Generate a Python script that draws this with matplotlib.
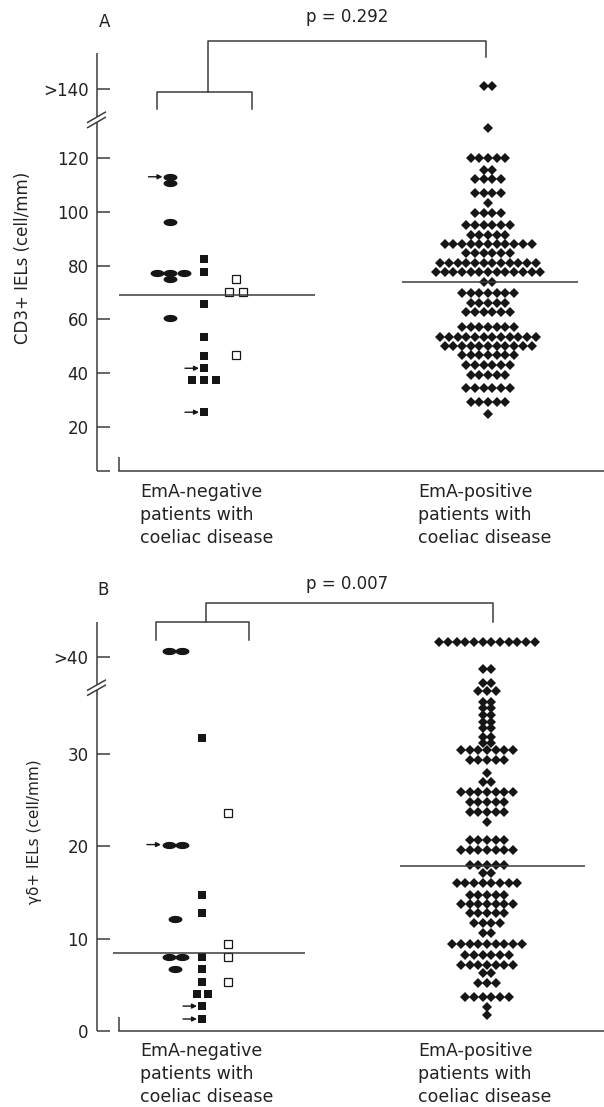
import numpy as np
import matplotlib.pyplot as plt
from matplotlib.transforms import blended_transform_factory

# ---- values ----
# Panel A: CD3+ IELs (cell/mm); points above the axis break (>140) sit at 146
a_neg_oval = [112.9, 110.5, 96.3, 77.3, 77.3, 77.3, 74.9, 60.7]
a_neg_square = [82.4, 77.5, 65.6, 53.6, 46.6, 41.9, 37.4, 37.4, 37.4, 25.6]
a_neg_open = [75.0, 70.1, 70.1, 46.7]
a_pos_levels = [146.6, 130.9, 119.8, 115.4, 112.0, 106.8, 103.1, 99.4, 95.0, 91.3,
                88.0, 84.5, 80.8, 77.7, 74.0, 69.7, 66.0, 62.9, 57.3, 53.6,
                50.2, 46.8, 43.1, 39.4, 34.5, 29.5, 24.9]
a_pos_counts = [2, 1, 5, 2, 4, 4, 1, 4, 6, 5,
                11, 6, 12, 13, 2, 7, 5, 6, 7, 12,
                11, 7, 6, 5, 6, 5, 1]
a_neg_mean = 69.1
a_pos_mean = 74.0
a_arrow_oval = [112.9]
a_arrow_square = [41.9, 25.6]
a_ticks = [20, 40, 60, 80, 100, 120, 145.5]
a_ticklabels = ["20", "40", "60", "80", "100", "120", ">140"]
a_pvalue = "p = 0.292"

# Panel B: gamma-delta+ IELs (cell/mm); >40 points sit at ~41-42
b_neg_oval = [41.2, 41.2, 20.2, 20.2, 12.1, 8.05, 8.05, 6.7]
b_neg_square = [31.7, 14.7, 12.8, 8.05, 6.7, 5.3, 4.0, 4.0, 2.7, 1.3]
b_neg_open = [23.6, 9.4, 8.05, 5.3]
b_pos_levels = [42.2, 39.2, 37.7, 36.8, 35.7, 35.0, 34.2, 33.5, 32.8, 31.9,
                31.2, 30.4, 29.4, 28.0, 27.0, 25.9, 24.8, 23.7, 22.6, 20.7,
                19.6, 18.0, 17.1, 16.0, 14.7, 13.8, 12.8, 11.7, 10.6, 9.4,
                8.2, 7.2, 6.3, 5.2, 3.7, 2.6, 1.7]
b_pos_counts = [12, 2, 2, 3, 2, 2, 2, 2, 2, 2,
                2, 7, 5, 1, 2, 7, 5, 5, 1, 5,
                7, 5, 2, 8, 5, 7, 5, 4, 2, 9,
                6, 7, 2, 3, 6, 1, 1]
b_neg_mean = 8.4
b_pos_mean = 17.9
b_arrow_oval = [20.2]
b_arrow_square = [2.7, 1.3]
b_ticks = [0, 10, 20, 30, 40.5]
b_ticklabels = ["0", "10", "20", "30", ">40"]
b_pvalue = "p = 0.007"

group_labels = ["EmA-negative\npatients with\ncoeliac disease",
                "EmA-positive\npatients with\ncoeliac disease"]

INK = "#161616"
LINE = "#3c3c3c"
plt.rcParams["font.family"] = "DejaVu Sans"

theta = np.linspace(0, 2 * np.pi, 48)
oval = np.column_stack([np.cos(theta), 0.52 * np.sin(theta)])


def spread(vals, center, step):
    # put tied values side by side, centred on the column
    vals = np.asarray(vals, dtype=float)
    xs = np.empty(len(vals))
    for v in np.unique(vals):
        idx = np.where(vals == v)[0]
        xs[idx] = center + (np.arange(len(idx)) - (len(idx) - 1) / 2) * step
    return xs


def panel(ax, neg_oval, neg_sq, neg_open, pos_levels, pos_counts, neg_mean,
          pos_mean, arrow_oval, arrow_sq, ticks, ticklabels, ylim, ybreak,
          cols, bottom_tick):
    ax.set_xlim(0, 507)
    ax.set_ylim(*ylim)
    ppu = 418 / (ylim[1] - ylim[0])  # px per data unit (approx)

    x_oval = spread(neg_oval, cols[0], cols[4])
    x_sq = spread(neg_sq, cols[1], cols[5])
    x_open = spread(neg_open, cols[2], 14)
    pos_vals = np.repeat(pos_levels, pos_counts)
    x_pos = spread(pos_vals, cols[3], 8.7)

    ax.plot(x_oval, neg_oval, ls="none", marker=oval, ms=10, color=INK, mew=0)
    ax.plot(x_sq, neg_sq, ls="none", marker="s", ms=6.2, color=INK, mew=0)
    ax.plot(x_open, neg_open, ls="none", marker="s", ms=5.5, mfc="white",
            mec=INK, mew=0.9)
    ax.plot(x_pos, pos_vals, ls="none", marker="D", ms=5.6, color=INK, mew=0)

    # medians
    ax.hlines(neg_mean, cols[6][0], cols[6][1], color=LINE, lw=1.1)
    ax.hlines(pos_mean, cols[7][0], cols[7][1], color=LINE, lw=1.1)

    # arrows marking special patients
    for vals, xs, src, half in [(arrow_oval, x_oval, neg_oval, 7.5),
                                (arrow_sq, x_sq, neg_sq, 5)]:
        for v in vals:
            x0 = xs[np.asarray(src) == v].min() - half
            ax.annotate("", xy=(x0, v), xytext=(x0 - 14, v),
                        arrowprops=dict(arrowstyle="-|>", color=INK, lw=1,
                                        mutation_scale=7, shrinkA=0, shrinkB=0))

    # axes frame: broken y axis, offset x axis
    for s in ["top", "right", "left"]:
        ax.spines[s].set_visible(False)
    ax.spines["bottom"].set_bounds(22, 507)
    ax.spines["bottom"].set_color(LINE)
    ax.spines["bottom"].set_linewidth(1.1)
    lo, hi = ylim
    g = 2.6 / ppu
    kw = dict(color=LINE, lw=1.1, clip_on=False, solid_capstyle="butt")
    ax.plot([0, 0], [lo, ybreak - g], **kw)
    ax.plot([0, 0], [ybreak + g, hi], **kw)
    for d in (-g, g):
        ax.plot([-10, 9], [ybreak + d - 5.5 / ppu, ybreak + d + 5.5 / ppu], **kw)
    if bottom_tick:
        ax.plot([0, 13], [lo, lo], **kw)
    ax.plot([22, 22], [lo, lo + 14 / ppu], **kw)

    ax.set_xticks([])
    ax.set_yticks(ticks)
    ax.set_yticklabels(ticklabels)
    ax.tick_params(axis="y", direction="in", length=9.5, width=1.1, color=LINE,
                   labelsize=12, pad=6, labelcolor="#222222")

    tr = blended_transform_factory(ax.transData, ax.transAxes)
    ax.text(43, -0.028, group_labels[0], transform=tr, ha="left", va="top",
            fontsize=12.5, linespacing=1.35, color="#222222")
    ax.text(321, -0.028, group_labels[1], transform=tr, ha="left", va="top",
            fontsize=12.5, linespacing=1.35, color="#222222")


fig = plt.figure(figsize=(6.04, 11.07), dpi=100)
axA = fig.add_axes([97 / 604, 1 - 471 / 1107, 507 / 604, 418 / 1107])
axB = fig.add_axes([97 / 604, 1 - 1031 / 1107, 507 / 604, 409.3 / 1107])

panel(axA, a_neg_oval, a_neg_square, a_neg_open, a_pos_levels, a_pos_counts,
      a_neg_mean, a_pos_mean, a_arrow_oval, a_arrow_square, a_ticks,
      a_ticklabels, (3.8, 158.8), 134.0,
      [73, 107, 139, 391, 13.5, 12.3, (22, 218), (305, 481)], True)
panel(axB, b_neg_oval, b_neg_square, b_neg_open, b_pos_levels, b_pos_counts,
      b_neg_mean, b_pos_mean, b_arrow_oval, b_arrow_square, b_ticks,
      b_ticklabels, (0, 44.35), 37.2,
      [78, 105, 131, 390, 13, 11, (16, 208), (303, 488)], False)

# significance brackets (axes fraction in y)
def bracket(ax, xl, xr, xs, xright, yh, ylow, ytop, yright):
    tr = blended_transform_factory(ax.transData, ax.transAxes)
    kw = dict(color=LINE, lw=1.1, transform=tr, clip_on=False)
    ax.plot([xl, xl, xr, xr], [ylow, yh, yh, ylow], **kw)
    ax.plot([xs, xs, xright, xright], [yh, ytop, ytop, yright], **kw)

bracket(axA, 60, 155, 111, 389, 0.907, 0.866, 1.029, 0.990)
bracket(axB, 59, 152, 109, 396, 0.9985, 0.955, 1.045, 1.0)

fig.text(105 / 604, 1 - 22 / 1107, "A", fontsize=12, ha="center", va="center", color="#222222")
fig.text(347 / 604, 1 - 17 / 1107, a_pvalue, fontsize=12, ha="center", va="center", color="#222222")
fig.text(103 / 604, 1 - 590 / 1107, "B", fontsize=12, ha="center", va="center", color="#222222")
fig.text(347 / 604, 1 - 584 / 1107, b_pvalue, fontsize=12, ha="center", va="center", color="#222222")

fig.text(23 / 604, 1 - 258 / 1107, "CD3+ IELs (cell/mm)", rotation=90,
         fontsize=12, ha="center", va="center", color="#222222")
fig.text(35 / 604, 1 - 832 / 1107, "γδ+ IELs (cell/mm)", rotation=90,
         fontsize=11, ha="center", va="center", color="#222222")

fig.savefig("out.png", dpi=100)
